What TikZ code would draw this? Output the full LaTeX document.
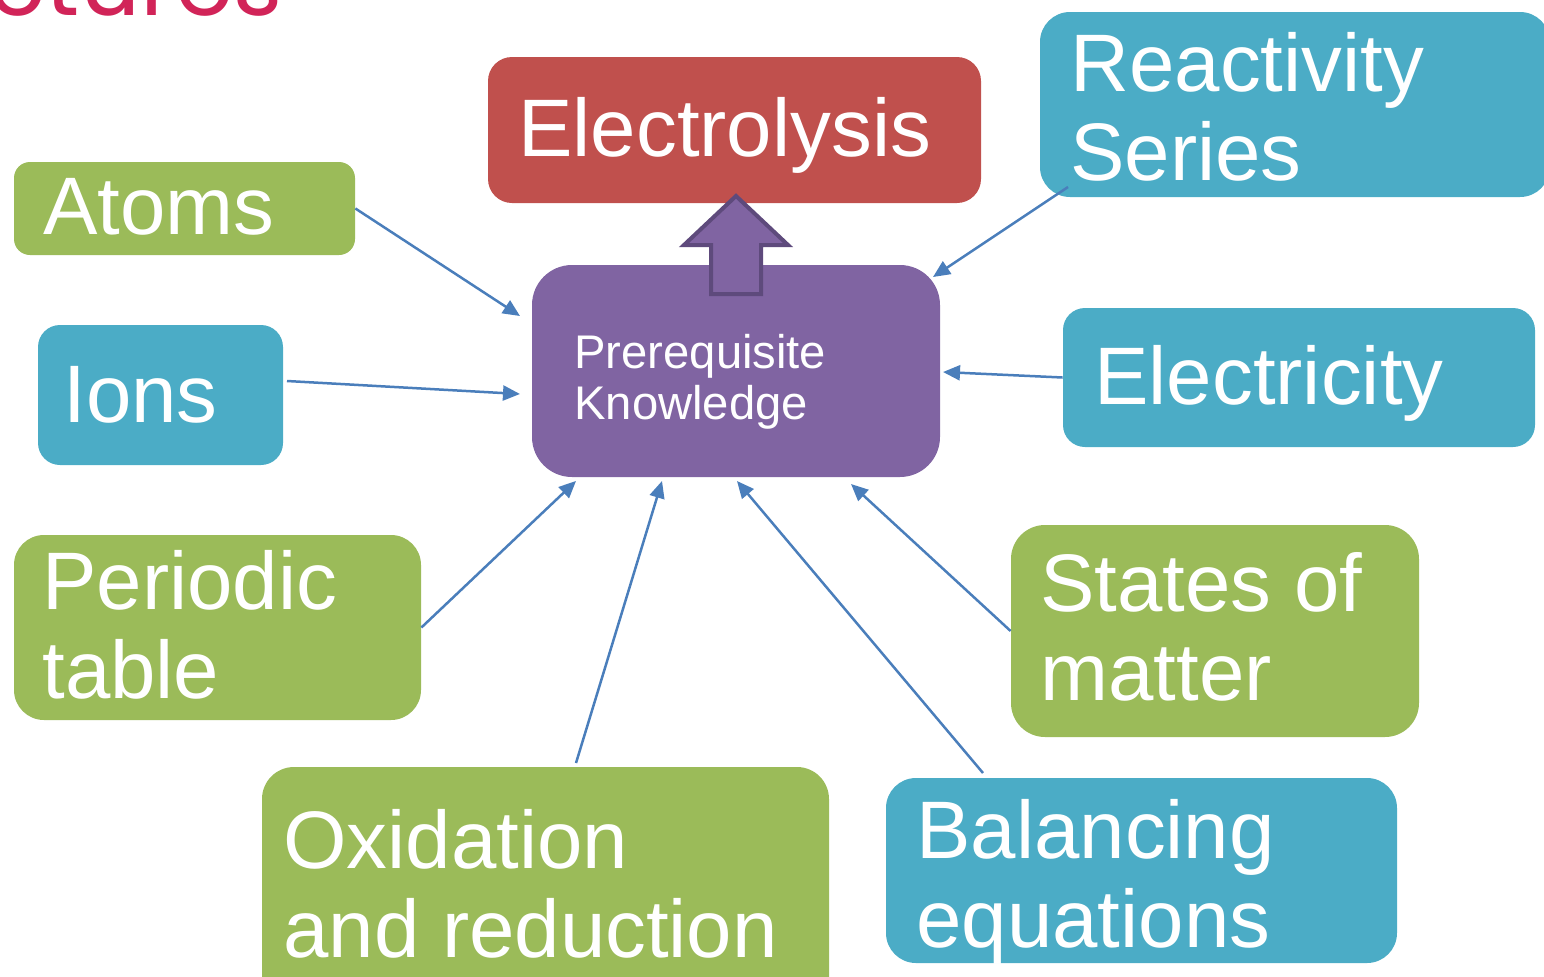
\documentclass[tikz,border=0pt]{standalone}
\usepackage{fontspec}
\setmainfont{Liberation Sans}
\newfontfamily\headfont{Poppins}
\usetikzlibrary{arrows.meta,fit}

\definecolor{topicgreen}{HTML}{9BBB59}
\definecolor{topicblue}{HTML}{4BACC6}
\definecolor{goalred}{HTML}{C0504D}
\definecolor{corepurple}{HTML}{8064A2}
\definecolor{coreedge}{HTML}{5E4A7C}
\definecolor{linkblue}{HTML}{4A7EBB}
\definecolor{headcrimson}{HTML}{D12458}

\begin{document}
\begin{tikzpicture}[x=0.5pt,y=-0.5pt,
  panel/.style={inner sep=0pt, draw=none},
  bigtext/.style={text=white, anchor=base west, inner sep=0pt, align=left,
    font=\fontsize{40.8}{44.5}\selectfont},
  smalltext/.style={text=white, anchor=base west, inner sep=0pt, align=left,
    font=\fontsize{23.6}{25.5}\selectfont},
  link/.style={draw=linkblue, line width=1.25pt,
    -{Triangle[length=8.5pt,width=7.5pt]}}]

\clip (0,0) rectangle (1544,976);
\useasboundingbox (0,0) rectangle (1544,976);

% heading, running off the top edge
\node[text=headcrimson, anchor=base east, inner sep=0pt,
  font=\headfont\fontsize{47}{50}\selectfont] (heading) at (283,15) {Structures};

% topic panels
\node[panel, fill=goalred, rounded corners=12pt, fit={(488,57) (981,203)}] (electro) {};
\node[panel, fill=topicgreen, rounded corners=8pt, fit={(14,162) (355,255)}] (atoms) {};
\node[panel, fill=topicblue, rounded corners=11pt, fit={(38,325) (283,465)}] (ions) {};
\node[panel, fill=topicgreen, rounded corners=15pt, fit={(14,535) (421,720)}] (periodic) {};
\node[panel, fill=topicgreen, rounded corners=16pt, fit={(262,767) (829,1010)}] (redox) {};
\node[panel, fill=topicblue, rounded corners=15pt, fit={(886,778) (1397,963)}] (balance) {};
\node[panel, fill=topicgreen, rounded corners=17pt, fit={(1011,525) (1419,737)}] (states) {};
\node[panel, fill=topicblue, rounded corners=11pt, fit={(1063,308) (1535,447)}] (elec) {};
\node[panel, fill=topicblue, rounded corners=15pt, fit={(1040,12) (1550,197)}] (react) {};
\node[panel, fill=corepurple, rounded corners=20pt, fit={(532,265) (940,477)}] (core) {};

% panel texts (multi-line texts are placed by the baseline of their last line)
\node[bigtext] (electroText) at (518,156) {Electrolysis};
\node[bigtext] (atomsText) at (43,234) {Atoms};
\node[bigtext] (ionsText) at (63,422) {Ions};
\node[bigtext] (periodicText) at (42,698) {Periodic\\table};
\node[bigtext] (redoxText) at (283,957) {Oxidation\\and reduction};
\node[bigtext] (balanceText) at (916,947) {Balancing\\equations};
\node[bigtext] (statesText) at (1040,700) {States of\\matter};
\node[bigtext] (elecText) at (1094,404) {Electricity};
\node[bigtext] (reactText) at (1070,180) {Reactivity\\Series};
\node[smalltext] (coreText) at (574,419) {Prerequisite\\Knowledge};

% block arrow from the core panel up to Electrolysis
\draw[fill=corepurple, draw=coreedge, line width=2pt, line join=miter]
  (736,196) -- (788,245) -- (761,245) -- (761,294) -- (711,294)
  -- (711,245) -- (684,245) -- cycle;

% connector ends beside the core panel
\coordinate (inAtoms) at (520,316);
\coordinate (inIons) at (520,394);
\coordinate (inPeriodic) at (576,481);
\coordinate (inRedox) at (662,481);
\coordinate (inBalance) at (737,481);
\coordinate (inStates) at (851,484);
\coordinate (inElec) at (943,372);
\coordinate (inReact) at (933,277);

% connector starts on the topic panels
\coordinate (outIons) at (287,381);
\coordinate (outRedox) at (576,763);
\coordinate (outBalance) at (983,773);
\coordinate (outReact) at (1068,187);

\draw[link] (atoms.east) -- (inAtoms);
\draw[link] (outIons) -- (inIons);
\draw[link] (periodic.east) -- (inPeriodic);
\draw[link] (outRedox) -- (inRedox);
\draw[link] (outBalance) -- (inBalance);
\draw[link] (states.west) -- (inStates);
\draw[link] (elec.west) -- (inElec);
\draw[link] (outReact) -- (inReact);
\end{tikzpicture}
\end{document}
